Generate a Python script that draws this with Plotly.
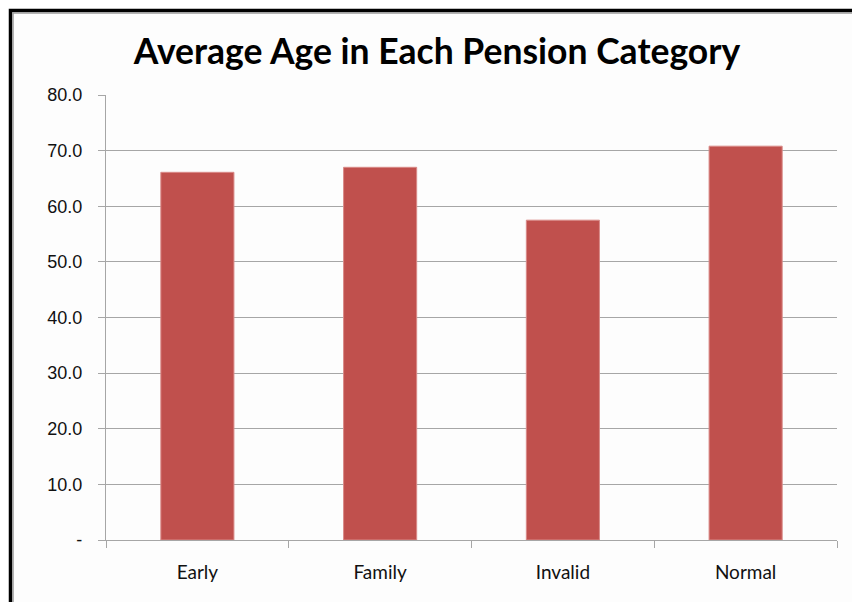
import plotly.graph_objects as go

categories = ["Early", "Family", "Invalid", "Normal"]
avg_age = [66.1, 67.0, 57.5, 70.8]
y_tick_vals = [0, 10, 20, 30, 40, 50, 60, 70, 80]
y_tick_text = ["-", "10.0", "20.0", "30.0", "40.0", "50.0", "60.0", "70.0", "80.0"]

L, R, T, B = 106, 15, 95, 62
W, H = 852, 602
pw, ph = W - L - R, H - T - B

def px(x):
    return (x - L) / pw

def py(y):
    return (H - B - y) / ph

fig = go.Figure(go.Bar(
    x=categories, y=avg_age, width=0.4,
    marker=dict(color="#c0504d", line=dict(color="#d98a88", width=1)),
))

fig.update_layout(
    width=W, height=H,
    margin=dict(l=L, r=R, t=T, b=B),
    paper_bgcolor="white",
    plot_bgcolor="rgba(0,0,0,0)",
    showlegend=False,
    title=dict(text="<b>Average Age in Each Pension Category</b>",
               xref="container", yref="container",
               x=437 / W, xanchor="center", y=1 - 52 / H, yanchor="middle",
               font=dict(family="Lato, Open Sans, sans-serif", size=35.5, color="black")),
    bargap=0.6,
    shapes=[
        dict(type="rect", xref="paper", yref="paper", layer="below",
             x0=px(10.5), x1=px(880), y0=py(640), y1=py(10.5),
             fillcolor="#fdfdfd", line=dict(color="black", width=3.5)),
        dict(type="rect", xref="paper", yref="paper", layer="below",
             x0=px(13), x1=px(880), y0=py(640), y1=py(13),
             fillcolor="rgba(0,0,0,0)", line=dict(color="#9a9a9a", width=1.5)),
    ],
)

fig.update_yaxes(
    range=[0, 80], tickvals=y_tick_vals, ticktext=y_tick_text,
    showgrid=True, gridcolor="#a6a6a6", gridwidth=1.3,
    showline=True, linecolor="#a6a6a6", linewidth=1.3,
    ticks="outside", ticklen=7, tickcolor="#a6a6a6", tickwidth=1.3,
    ticklabelstandoff=12,
    tickfont=dict(family="Liberation Sans, Arial, sans-serif", size=18, color="#111111"),
    zeroline=False,
)
fig.update_xaxes(
    showline=True, linecolor="#a6a6a6", linewidth=1.3,
    ticks="outside", tickson="boundaries", ticklen=7, tickcolor="#a6a6a6", tickwidth=1.3,
    ticklabelstandoff=15,
    tickfont=dict(family="Lato, Open Sans, sans-serif", size=19, color="#111111"),
)

fig.write_html("out.html")
